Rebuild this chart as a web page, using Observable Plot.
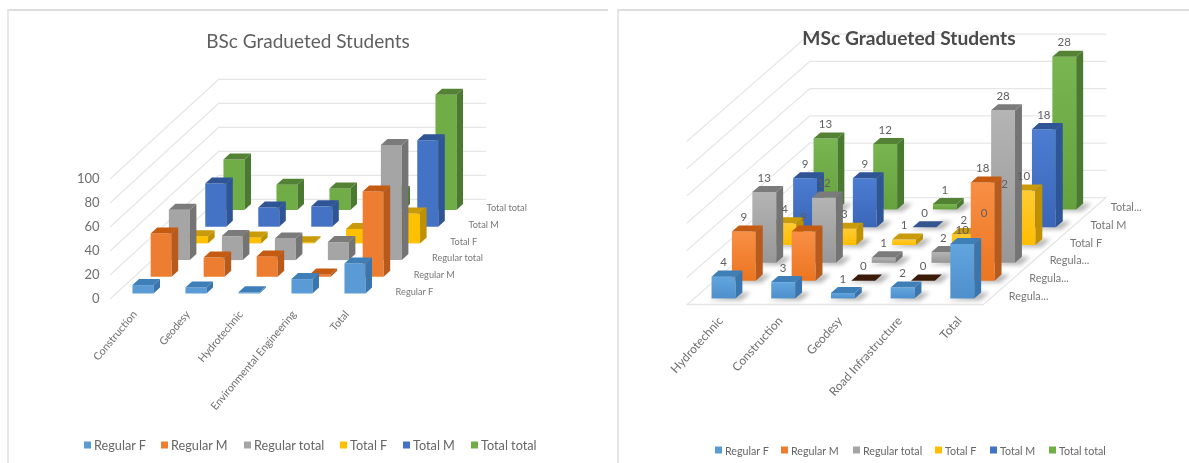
<!DOCTYPE html>
<html><head><meta charset="utf-8">
<script src="https://cdn.jsdelivr.net/npm/d3@7"></script>
<script src="https://cdn.jsdelivr.net/npm/@observablehq/plot@0.6"></script>
<style>
html,body{margin:0;padding:0;background:#fff;overflow:hidden;width:1189px;height:463px;font-family:Lato,sans-serif}
#root{position:relative;width:1189px;height:463px;filter:blur(.55px)}
.panel{position:absolute;top:9px;height:454px;border-top:2px solid #dedede;border-left:2px solid #e6e6e6;box-sizing:border-box}
.slot{position:absolute;top:0}
.title{position:absolute;white-space:nowrap;transform:translate(-50%,-50%)}
.lg{position:absolute;white-space:nowrap;transform:translateY(-50%);color:#666}
.sw{position:absolute;width:7px;height:7px;transform:translateY(-50%)}
</style></head><body><div id="root"></div>
<script>
const seriesNames = ["Regular F","Regular M","Regular total","Total F","Total M","Total total"];
const frontColors = ["#5b9bd5","#ed7d31","#a5a5a5","#ffc000","#4472c4","#70ad47"];
const gradTop     = ["#62a5de","#f88f45","#b4b4b4","#ffcb33","#4c7dd2","#79b652"];
const gradBottom  = ["#4e8fcc","#ec7520","#979797","#ffbd00","#3a66b8","#65a23e"];
const darkColors  = ["#3a75ad","#b85a1c","#747474","#bf9000","#2f5597","#4a7a30"];
const topColors   = ["#3f7fb8","#c55a11","#7b7b7b","#c99a0a","#2f5597","#548235"];
const zeroColors  = ["#2e75b6","#3b1a0a","#6d6d6d","#bf9000","#34558e","#548235"];

const bscCategories = ["Construction","Geodesy","Hydrotechnic","Environmental Engineering","Total"];
const bscRowLabels = ["Regular F","Regular M","Regular total","Total F","Total M","Total total"];
const bscTicks = [0,20,40,60,80,100];
const bscRegularF = [7,5,1,12,25];
const bscRegularM = [36,16,17,2,71];
const bscRegularTotal = [42,20,18,15,96];
const bscTotalF = [6,5,1,12,25];
const bscTotalM = [36,16,17,12,72];
const bscTotalTotal = [42,21,18,15,96];

const mscCategories = ["Hydrotechnic","Construction","Geodesy","Road Infrastructure","Total"];
const mscRowLabels = ["Regula...","Regula...","Regula...","Total F","Total M","Total..."];
const mscTicks = [0,5,10,15,20,25,30];
const mscRegularF = [4,3,1,2,10];
const mscRegularM = [9,9,0,0,18];
const mscRegularTotal = [13,12,1,2,28];
const mscTotalF = [4,3,1,2,10];
const mscTotalM = [9,9,0,0,18];
const mscTotalTotal = [13,12,1,2,28];

function gradientDefs(){
  const defs=d3.create("svg:defs");
  gradTop.forEach((t,i)=>{
    const g=defs.append("linearGradient").attr("id","front"+i).attr("x1",0).attr("y1",0).attr("x2",0).attr("y2",1);
    g.append("stop").attr("offset","0%").attr("stop-color",t);
    g.append("stop").attr("offset","100%").attr("stop-color",gradBottom[i]);
  });
  return defs.node();
}
function drawPanel(o){
  const P=(c,d,v)=>({x:c+d*o.xk,y:v+d*o.yk});
  const faces=[], shadows=[], labels=[];
  let id=0;
  const poly=(pts,fill)=>{id++;pts.forEach(p=>faces.push({...P(...p),id,fill}));};
  for(let r=5;r>=0;r--){
    o.values[r].forEach((v,c)=>{
      const d=r+o.front,w=o.barW,e=o.barD;
      if(o.labels) {
        const sid="s"+r+"-"+c;
        [[c-.02,d-.12,0],[c+w+.14,d-.12,0],[c+w+.14,d+e,0],[c+w,d+e,0]].forEach(p=>shadows.push({...P(...p),id:sid}));
        labels.push({x:P(c+w/2,d,v).x,y:P(c,d+e,v).y,text:String(v)});
      }
      if(v>0){
        poly([[c,d,0],[c+w,d,0],[c+w,d,v],[c,d,v]],o.gradient?`url(#front${r})`:frontColors[r]);
        poly([[c+w,d,0],[c+w,d+e,0],[c+w,d+e,v],[c+w,d,v]],darkColors[r]);
      }
      poly([[c,d,v],[c+w,d,v],[c+w,d+e,v],[c,d+e,v]],v>0?topColors[r]:zeroColors[r]);
    });
  }
  const grid=[];
  o.ticks.forEach(t=>{
    [[o.c0,0,t],[o.c0,o.back,t],[o.c1,o.back,t]].forEach(p=>grid.push({...P(...p),t}));
  });
  const floor=o.floor?[[o.c0,0,0],[o.c1,0,0],[o.c1,o.back,0]].map(p=>P(...p)):[];
  const cats=o.cats.map((t,c)=>({t,x:c+o.catDx,y:o.catY}));
  const rows=o.rows.map((t,r)=>({t,...P(o.rowC,r+o.front,o.rowV)}));
  const marks=[
    o.gradient?gradientDefs:null,
    Plot.line(grid,{x:"x",y:"y",z:"t",stroke:"#e6e6e6",strokeWidth:1.2}),
    o.floor?Plot.line(floor,{x:"x",y:"y",stroke:"#e6e6e6",strokeWidth:1.4}):null,
    o.labels?Plot.line(shadows,{x:"x",y:"y",z:"id",fill:"#555",stroke:"none",fillOpacity:.42,imageFilter:"blur(2px)"}):null,
    Plot.line(faces,{x:"x",y:"y",z:"id",fill:"fill",stroke:"none"}),
    o.labels?Plot.text(labels,{x:"x",y:"y",text:"text",dy:-8,fill:"#5f5f5f",fontSize:o.labelSize}):null,
    Plot.text(cats,{x:"x",y:"y",text:"t",rotate:o.catAngle,textAnchor:"end",fill:"#6e6e6e",fontSize:o.catSize}),
    Plot.text(rows,{x:"x",y:"y",text:"t",textAnchor:"start",fill:"#777",fontSize:o.rowSize}),
    o.axis?Plot.axisY({ticks:o.ticks,tickSize:0,tickPadding:3,label:null,anchor:"left",fontSize:13,color:"#6e6e6e"}):null
  ].filter(Boolean);
  const svg=Plot.plot({
    width:o.width,height:463,marginLeft:o.marginLeft,marginRight:0,marginTop:0,marginBottom:0,
    style:{background:"transparent",fontFamily:"Lato,sans-serif",overflow:"visible"},
    color:{type:"identity"},
    x:{domain:[0,1],range:o.xRange,axis:null},
    y:{domain:[0,o.ticks[o.ticks.length-1]],range:o.yRange,axis:o.axis?undefined:null},
    marks
  });
  const slot=document.createElement("div");
  slot.className="slot";slot.style.left=o.left+"px";slot.appendChild(svg);
  root.appendChild(slot);
  const title=document.createElement("div");
  title.className="title";title.textContent=o.title;
  title.style.cssText=`left:${o.titleX}px;top:${o.titleY}px;font-size:${o.titleSize}px;color:${o.titleColor};font-weight:${o.titleWeight}`;
  root.appendChild(title);
  seriesNames.forEach((n,i)=>{
    const s=document.createElement("div");s.className="sw";
    s.style.cssText=`left:${o.legendX[i]}px;top:${o.legendY}px;background:${frontColors[i]}`;
    root.appendChild(s);
    const t=document.createElement("div");t.className="lg";t.textContent=n;
    t.style.cssText=`left:${o.legendX[i]+10}px;top:${o.legendY}px;font-size:${o.legendSize}px`;
    root.appendChild(t);
  });
}
const root=document.getElementById("root");
[[7,601],[617,572]].forEach(([l,w])=>{
  const p=document.createElement("div");p.className="panel";p.style.left=l+"px";p.style.width=w+"px";root.appendChild(p);
});
drawPanel({
  left:0,width:608,marginLeft:102,title:"BSc Gradueted Students",titleX:308,titleY:40,titleSize:19,titleColor:"#5f5f5f",titleWeight:400,
  cats:bscCategories,rows:bscRowLabels,ticks:bscTicks,
  values:[bscRegularF,bscRegularM,bscRegularTotal,bscTotalF,bscTotalM,bscTotalTotal],
  xk:18.2/53,yk:16.7/1.2,front:.3,barW:.396,barD:.36,c0:-.31,c1:4.73,back:5.93,
  xRange:[126.5,179.5],yRange:[298,178],axis:true,floor:false,labels:false,gradient:false,
  catDx:.15,catY:-11.5,catSize:10.7,catAngle:-50,rowC:4.965,rowV:1.4,rowSize:9.2,
  legendX:[84,161,244,340,403,471],legendY:445,legendSize:12.7
});
drawPanel({
  left:616,width:573,marginLeft:0,title:"MSc Gradueted Students",titleX:293+616,titleY:37,titleSize:19.2,titleColor:"#4a4a4a",titleWeight:700,
  cats:mscCategories,rows:mscRowLabels,ticks:mscTicks,
  values:[mscRegularF,mscRegularM,mscRegularTotal,mscTotalF,mscTotalM,mscTotalTotal],
  xk:20.4/59.7,yk:17.8/5.45,front:.34,barW:.4,barD:.34,c0:-.29,c1:4.67,back:6.0,
  xRange:[88.1,147.8],yRange:[304,140.5],axis:false,floor:true,labels:true,gradient:true,labelSize:11.5,
  catDx:.27,catY:-2.6,catSize:12,catAngle:-48,rowC:4.98,rowV:.35,rowSize:10.9,
  legendX:[715,781,853,935,990,1049],legendY:450,legendSize:10.7
});
</script></body></html>
